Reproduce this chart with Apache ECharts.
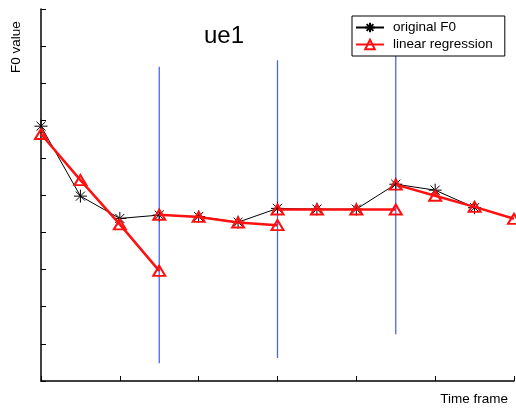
<!DOCTYPE html>
<html>
<head>
<meta charset="utf-8">
<script src="https://cdn.jsdelivr.net/npm/echarts@6/dist/echarts.min.js"></script>
<style>
  html, body { margin: 0; padding: 0; background: #fff; }
  #f0 { width: 516px; height: 410px; }
</style>
</head>
<body>
<div id="f0"></div>
<script>
// time frame index of each sample
var frames = [0, 1, 2, 3, 4, 5, 6, 7, 8, 9, 10, 11, 12];
// original F0 (frames 0..11)
var origF0 = [6.85, 4.97, 4.37, 4.46, 4.42, 4.27, 4.64, 4.62, 4.62, 5.29, 5.13, 4.66];
// linear regression, one piece per segment
var segStart = [0, 3, 6, 9];
var regSeg1 = [6.64, 5.40, 4.21, 2.96];
var regSeg2 = [4.47, 4.41, 4.26, 4.19];
var regSeg3 = [4.61, 4.61, 4.61, 4.61];
var regSeg4 = [5.28, 4.98, 4.68, 4.36];
// segment boundaries: frame, bottom, top
var bndFrame = [3, 6, 9];
var bndLow = [0.48, 0.62, 1.26];
var bndHigh = [8.45, 8.62, 9.6];

var FONT = 'Liberation Sans, Arial, sans-serif';
var STAR = 'path://M0,5L10,5M5,0L5,10M1.5,1.5L8.5,8.5M8.5,1.5L1.5,8.5';

function pairs(start, vals) {
    return vals.map(function (v, i) { return [frames[start + i], v]; });
}

function regSeries(start, vals) {
    return {
        name: 'linear regression',
        type: 'line',
        data: pairs(start, vals),
        symbol: 'triangle',
        symbolSize: [12, 10],
        z: 4,
        lineStyle: { color: '#ff1010', width: 2.5 },
        itemStyle: { color: 'rgba(255,255,255,0)', borderColor: '#ff1010', borderWidth: 2 }
    };
}

var series = [];
// blue boundary lines first
bndFrame.forEach(function (f, i) {
    series.push({
        name: 'boundary',
        type: 'line',
        data: [[f, bndLow[i]], [f, bndHigh[i]]],
        symbol: 'none',
        z: 1,
        lineStyle: { color: '#4468f5', width: 1.3 }
    });
});
series.push({
    name: 'original F0',
    type: 'line',
    data: pairs(0, origF0),
    symbol: STAR,
    symbolSize: 13,
    z: 3,
    lineStyle: { color: '#000', width: 1 },
    itemStyle: { color: 'rgba(0,0,0,0)', borderColor: '#000', borderWidth: 1 }
});
series.push(regSeries(segStart[0], regSeg1));
series.push(regSeries(segStart[1], regSeg2));
series.push(regSeries(segStart[2], regSeg3));
series.push(regSeries(segStart[3], regSeg4));

var chart = echarts.init(document.getElementById('f0'));
chart.setOption({
    animation: false,
    backgroundColor: '#fff',
    textStyle: { fontFamily: FONT },
    title: {
        text: 'ue1',
        left: 204,
        top: 24,
        padding: 0,
        textStyle: { fontFamily: FONT, fontSize: 24, fontWeight: 'normal', color: '#000' }
    },
    legend: {
        data: ['original F0', 'linear regression'],
        orient: 'vertical',
        left: 352,
        top: 16,
        width: 155,
        padding: [4, 12, 4, 3],
        itemGap: 2,
        itemWidth: 28,
        itemHeight: 12,
        backgroundColor: '#fff',
        borderColor: '#000',
        borderWidth: 1,
        borderRadius: 0,
        z: 10,
        textStyle: { fontFamily: FONT, fontSize: 13.5, color: '#000', lineHeight: 15, padding: [0, 0, 0, 4] }
    },
    grid: { left: 41, top: 9, right: 2, bottom: 29, containLabel: false },
    xAxis: {
        type: 'value',
        min: 0,
        max: 12,
        interval: 2,
        name: 'Time frame',
        nameLocation: 'end',
        nameGap: -6,
        nameTextStyle: { fontFamily: FONT, fontSize: 13.5, color: '#000', align: 'right', verticalAlign: 'top', padding: [11, 0, 0, 0] },
        axisLine: { lineStyle: { color: '#000', width: 1.5 } },
        axisTick: { inside: true, length: 5, lineStyle: { color: '#000', width: 1 } },
        axisLabel: { show: false },
        splitLine: { show: false }
    },
    yAxis: {
        type: 'value',
        min: 0,
        max: 10,
        interval: 1,
        name: 'F0 value',
        nameLocation: 'end',
        nameRotate: 90,
        nameGap: -64,
        nameTextStyle: { fontFamily: FONT, fontSize: 13.5, color: '#000', align: 'left', verticalAlign: 'bottom', padding: [0, 0, 18, 0] },
        axisLine: { lineStyle: { color: '#000', width: 1.5 } },
        axisTick: { inside: true, length: 5, lineStyle: { color: '#000', width: 1 } },
        axisLabel: { show: false },
        splitLine: { show: false }
    },
    series: series
});
</script>
</body>
</html>
